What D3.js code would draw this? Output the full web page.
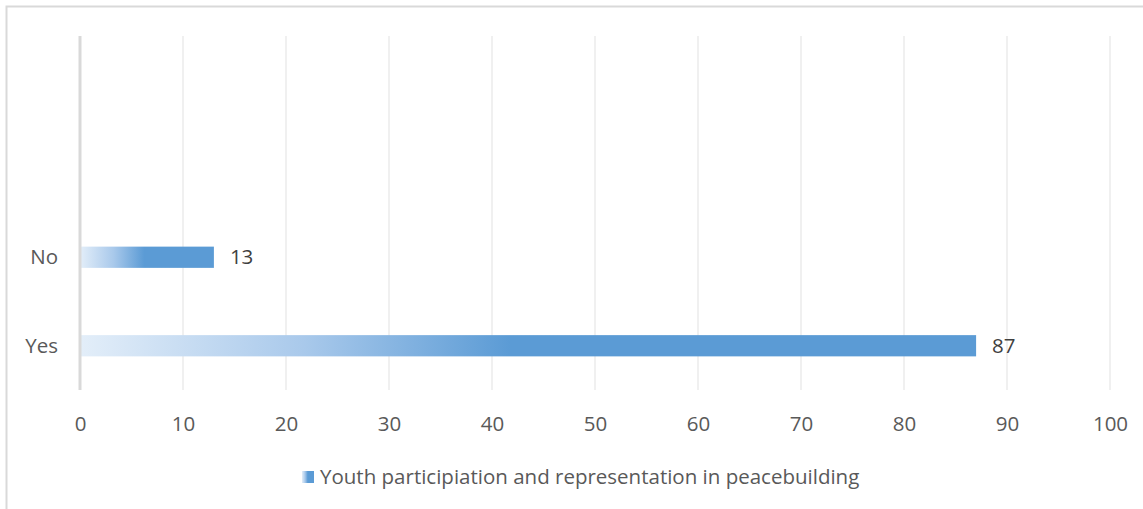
<!DOCTYPE html>
<html>
<head>
<meta charset="utf-8">
<script src="https://cdn.jsdelivr.net/npm/d3@7"></script>
<style>
  body { margin: 0; background: #fff; }
  text { font-family: "Open Sans", "Liberation Sans", sans-serif; }
</style>
</head>
<body>
<div id="chart"></div>
<script>
// data
const categories = ["", "", "No", "Yes"];
const values = [null, null, 13, 87];
const xTicks = [0, 10, 20, 30, 40, 50, 60, 70, 80, 90, 100];
const seriesName = "Youth participiation and representation in peacebuilding";

const W = 1143, H = 509;
const plot = { left: 80, right: 1110, top: 36, bottom: 390 };
const fontSize = "20.5px";

const svg = d3.select("#chart")
  .append("svg")
    .attr("width", W)
    .attr("height", H);

// outer frame (top + left edges visible only)
svg.append("path")
  .attr("d", `M6.5,${H} V6.5 H${W}`)
  .attr("fill", "none")
  .attr("stroke", "#d9d9d9")
  .attr("stroke-width", 2);

const defs = svg.append("defs");
const grad = defs.append("linearGradient")
  .attr("id", "barGrad")
  .attr("x1", "0%").attr("x2", "100%")
  .attr("y1", "0%").attr("y2", "0%");
grad.append("stop").attr("offset", "0%").attr("stop-color", "#e3eef9");
grad.append("stop").attr("offset", "25%").attr("stop-color", "#a9c9eb");
grad.append("stop").attr("offset", "48%").attr("stop-color", "#5b9bd5");
grad.append("stop").attr("offset", "100%").attr("stop-color", "#5b9bd5");

const x = d3.scaleLinear()
  .domain([0, 100])
  .range([plot.left, plot.right]);

const y = d3.scaleBand()
  .domain(d3.range(categories.length))
  .range([plot.top, plot.bottom])
  .paddingInner(0.76)
  .paddingOuter(0.38);

// gridlines
svg.append("g")
  .selectAll("line")
  .data(xTicks.filter(d => d > 0))
  .enter().append("line")
    .attr("x1", d => x(d)).attr("x2", d => x(d))
    .attr("y1", plot.top).attr("y2", plot.bottom)
    .attr("stroke", "#f0f0f0")
    .attr("stroke-width", 2);

// x axis labels
const xAxis = svg.append("g")
  .attr("transform", `translate(0,${plot.bottom})`)
  .call(d3.axisBottom(x).tickValues(xTicks).tickSize(0).tickPadding(26));
xAxis.select(".domain").remove();
xAxis.selectAll("text")
  .attr("fill", "#595959")
  .style("font-size", fontSize);

// bars
const rows = categories.map((c, i) => ({ c, v: values[i], i })).filter(d => d.v != null);

svg.append("g")
  .selectAll("rect")
  .data(rows)
  .enter().append("rect")
    .attr("x", x(0))
    .attr("y", d => y(d.i))
    .attr("width", d => x(d.v) - x(0))
    .attr("height", y.bandwidth())
    .attr("fill", "url(#barGrad)");

// data labels
svg.append("g")
  .selectAll("text")
  .data(rows)
  .enter().append("text")
    .attr("x", d => x(d.v) + 16)
    .attr("y", d => y(d.i) + y.bandwidth() / 2)
    .attr("dy", "0.35em")
    .attr("fill", "#404040")
    .style("font-size", fontSize)
    .text(d => d.v);

// category labels
svg.append("g")
  .selectAll("text")
  .data(categories.map((c, i) => ({ c, i })))
  .enter().append("text")
    .attr("x", plot.left - 22)
    .attr("y", d => y(d.i) + y.bandwidth() / 2)
    .attr("dy", "0.35em")
    .attr("text-anchor", "end")
    .attr("fill", "#595959")
    .style("font-size", fontSize)
    .text(d => d.c);

// zero axis line
svg.append("line")
  .attr("x1", x(0)).attr("x2", x(0))
  .attr("y1", plot.top).attr("y2", plot.bottom)
  .attr("stroke", "#d9d9d9")
  .attr("stroke-width", 3);

// legend
const legend = svg.append("g").attr("transform", "translate(302,477)");
legend.append("rect")
  .attr("x", 0).attr("y", -6)
  .attr("width", 12).attr("height", 12)
  .attr("fill", "url(#barGrad)");
legend.append("text")
  .attr("x", 18)
  .attr("dy", "0.35em")
  .attr("fill", "#595959")
  .style("font-size", fontSize)
  .text(seriesName);
</script>
</body>
</html>
